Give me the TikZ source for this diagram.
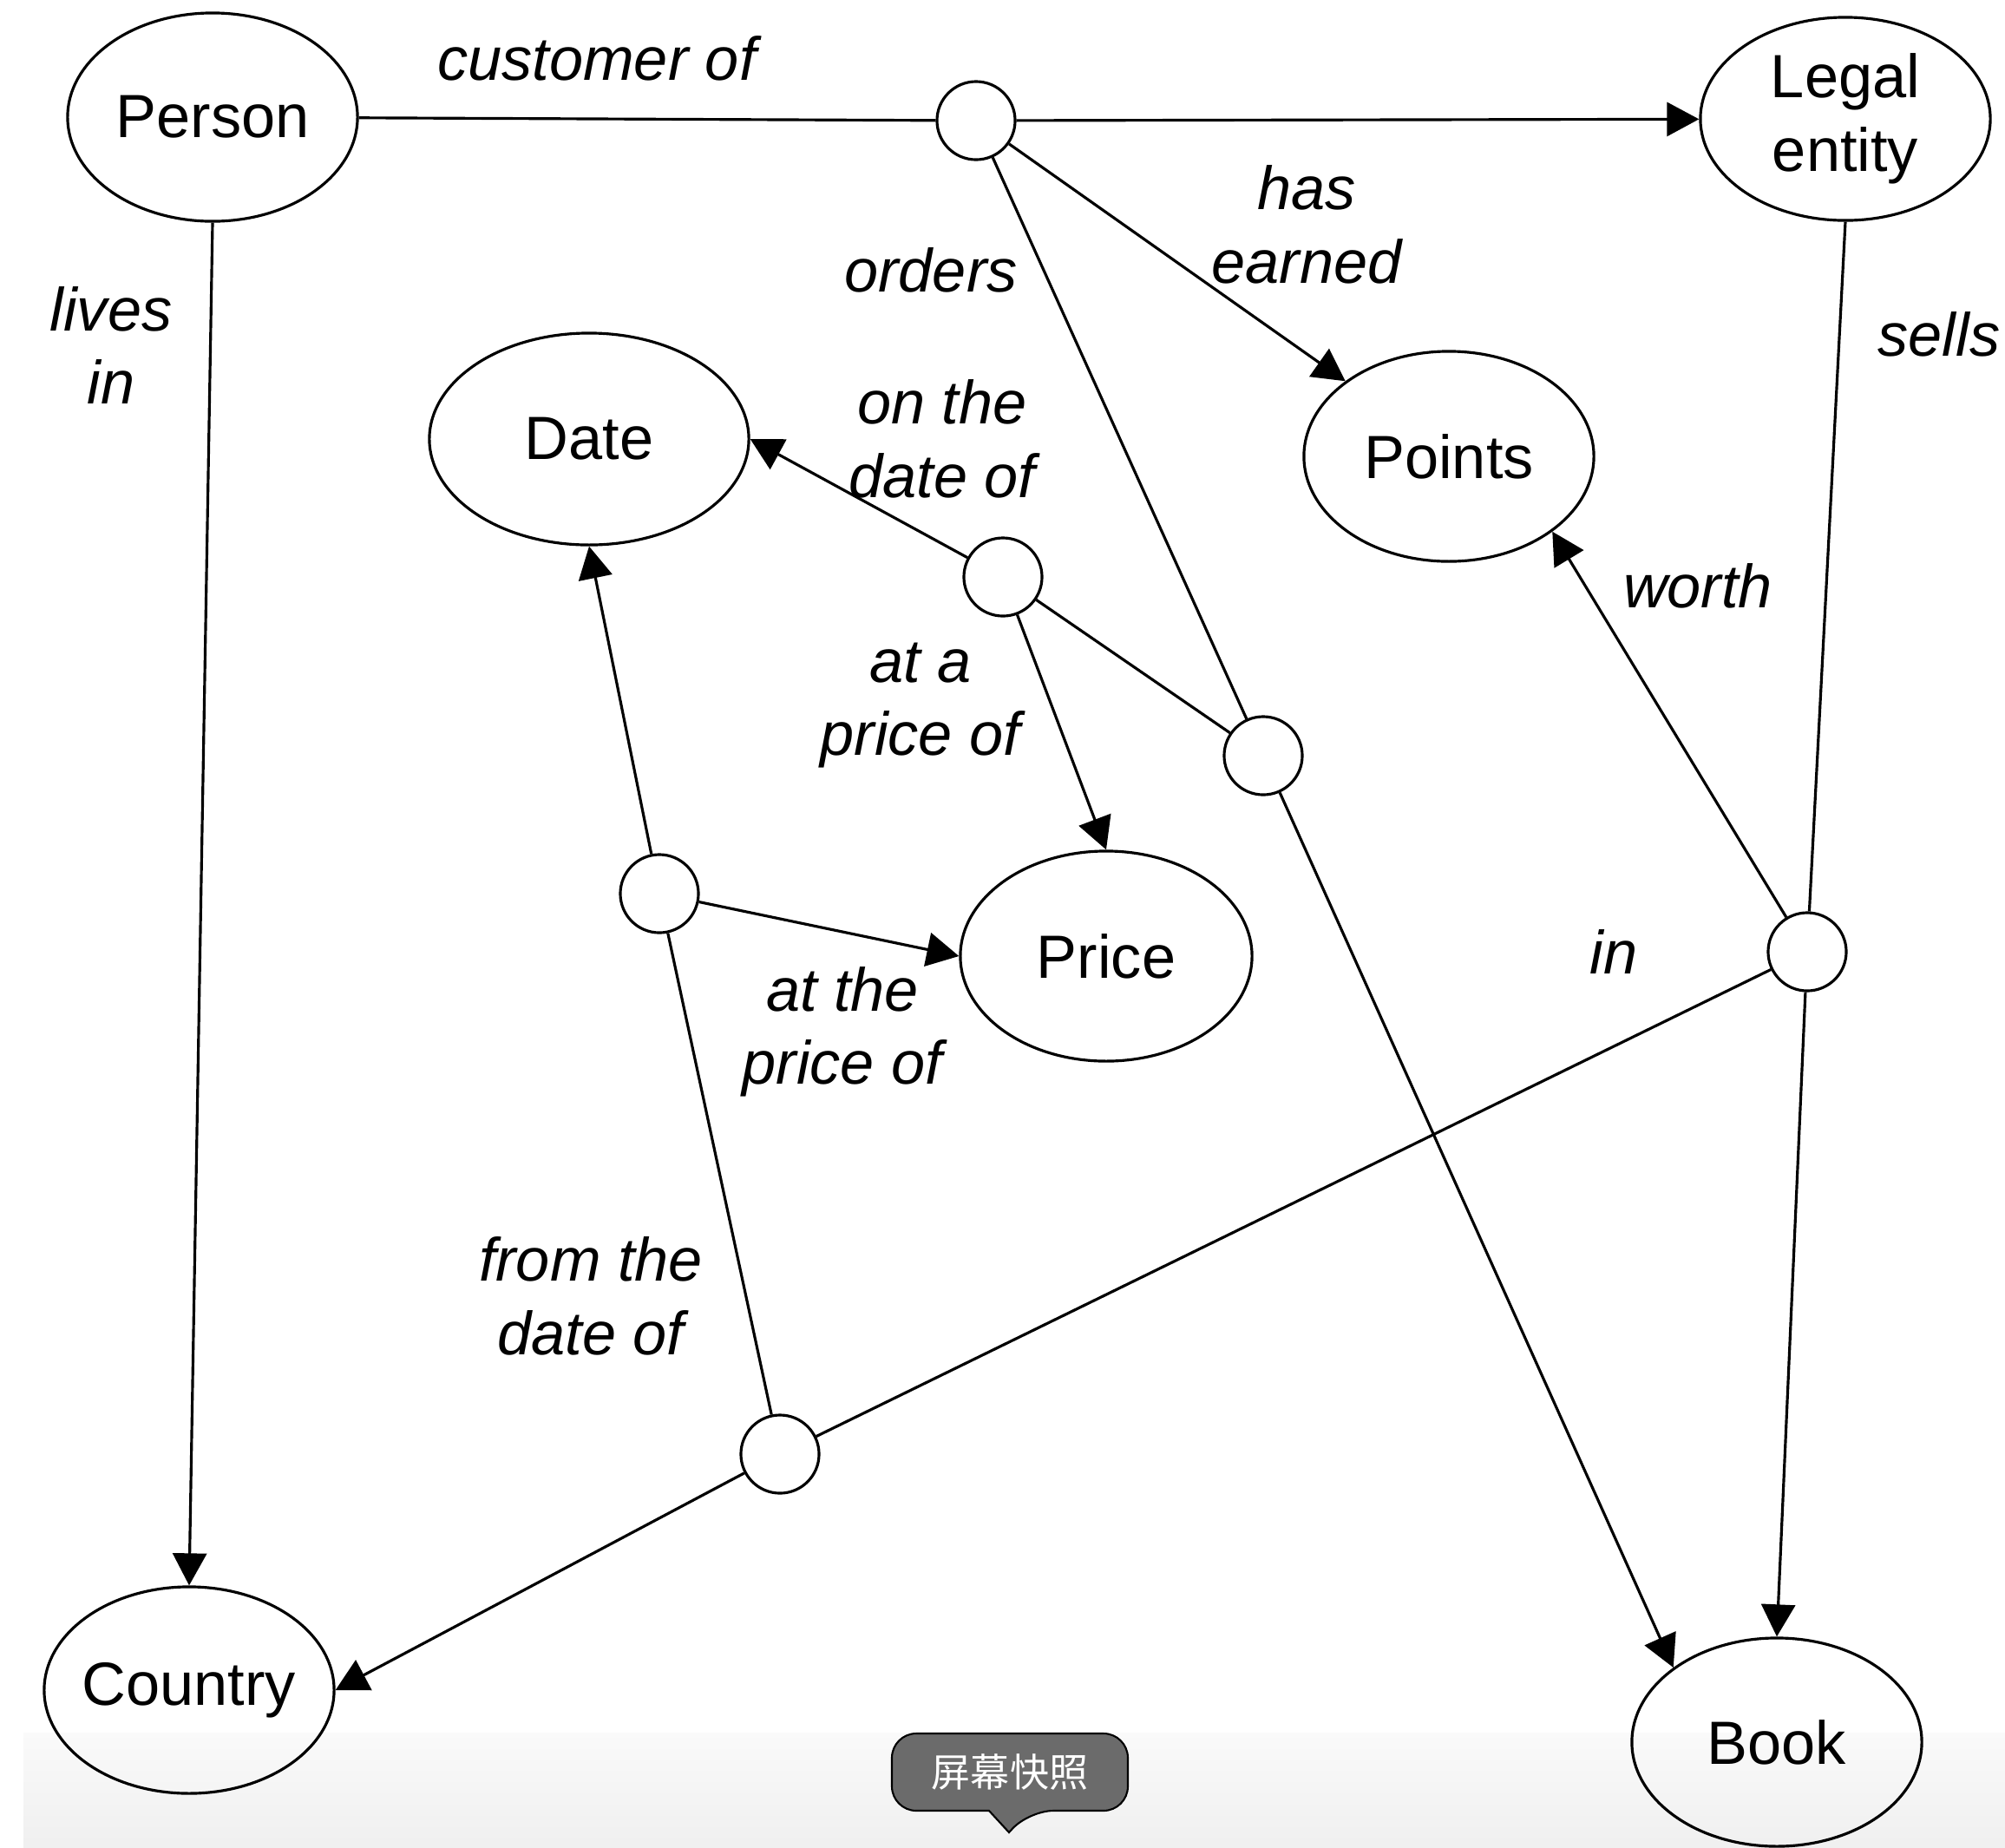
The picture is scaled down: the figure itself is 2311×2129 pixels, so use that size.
\documentclass[tikz,border=0pt]{standalone}
\usepackage{fontspec}
\setmainfont{Liberation Sans}
\newfontfamily\cjk{Noto Sans CJK SC}
\usetikzlibrary{shapes.geometric,arrows.meta}

\begin{document}
\begin{tikzpicture}[x=0.01cm,y=-0.01cm,line width=0.9pt,
		>={Triangle[length=3.7mm,width=3.9mm]},
		font=\fontsize{20}{24}\selectfont,
		concept/.style={draw,ellipse,inner sep=0pt,minimum width=3.34cm,minimum height=2.4cm,align=center},
		link/.style={draw,circle,inner sep=0pt,minimum size=0.9cm},
		role/.style={font=\fontsize{20}{24}\selectfont\itshape,align=center}]
		\useasboundingbox[fill=white] (0,0) rectangle (2311,2129);
		% screenshot bar
		\shade[top color=gray!4,bottom color=gray!12] (27,1997) rectangle (2311,2129);
		\draw[line width=0.6pt,fill=black!58,rounded corners=8pt] (1028,1998) -- (1300,1998) -- (1300,2087)
			-- (1186,2087) [sharp corners] -- (1163,2112) -- (1140,2087) [rounded corners=8pt] -- (1028,2087) -- cycle;
		\node[text=white,font=\cjk\fontsize{12.8}{14}\selectfont] (snap) at (1164,2042) {屏幕快照};
		% concepts
		\node[concept] (person) at (245,135) {Person};
		\node[concept,minimum height=2.34cm] (legal) at (2127,137) {Legal\\entity};
		\node[concept,minimum width=3.68cm,minimum height=2.44cm] (date) at (679,506) {Date};
		\node[concept,minimum height=2.42cm] (points) at (1670,526) {Points};
		\node[concept,minimum width=3.36cm,minimum height=2.42cm] (price) at (1275,1102) {Price};
		\node[concept,inner xsep=-3pt,minimum height=2.38cm] (country) at (218,1948) {Country};
		\node[concept] (book) at (2048,2008) {Book};
		% links
		\node[link] (cust) at (1125,139) {};
		\node[link] (ondate) at (1156,665) {};
		\node[link] (ord) at (1456,871) {};
		\node[link] (fromdate) at (760,1030) {};
		\node[link] (sell) at (2083,1097) {};
		\node[link] (inC) at (899,1676) {};
		% connectors
		\draw (person) -- (cust);
		\draw[->] (cust) -- (legal);
		\draw[->] (cust) -- (points.north west);
		\draw (cust) -- (ord);
		\draw[->] (ord) -- (book.north west);
		\draw[->] (ondate) -- (date.east);
		\draw (ondate) -- (ord);
		\draw[->] (ondate) -- (price.north);
		\draw[->] (fromdate) -- (date.south);
		\draw[->] (fromdate) -- (price.west);
		\draw (fromdate) -- (inC);
		\draw[->] (person.south) -- (country.north);
		\draw (legal.south) -- (sell);
		\draw[->] (sell) -- (book.north);
		\draw[->] (sell) -- (points.south east);
		\draw (sell) -- (inC);
		\draw[->] (inC) -- (country.east);
		% roles
		\node[role] (lcust) at (688,67) {customer of};
		\node[role] (llives) at (128,398) {lives\\in};
		\node[role] (lord) at (1073,311) {orders};
		\node[role] (learn) at (1506,259) {has\\earned};
		\node[role] (londate) at (1086,506) {on the\\date of};
		\node[role] (latprice) at (1061,813) {at a\\price of};
		\node[role] (lthe) at (971,1189) {at the\\price of};
		\node[role] (lfrom) at (681,1494) {from the\\date of};
		\node[role] (lworth) at (1957,675) {worth};
		\node[role] (lsells) at (2235,385) {sells};
		\node[role] (lin) at (1860,1097) {in};
\end{tikzpicture}
\end{document}
